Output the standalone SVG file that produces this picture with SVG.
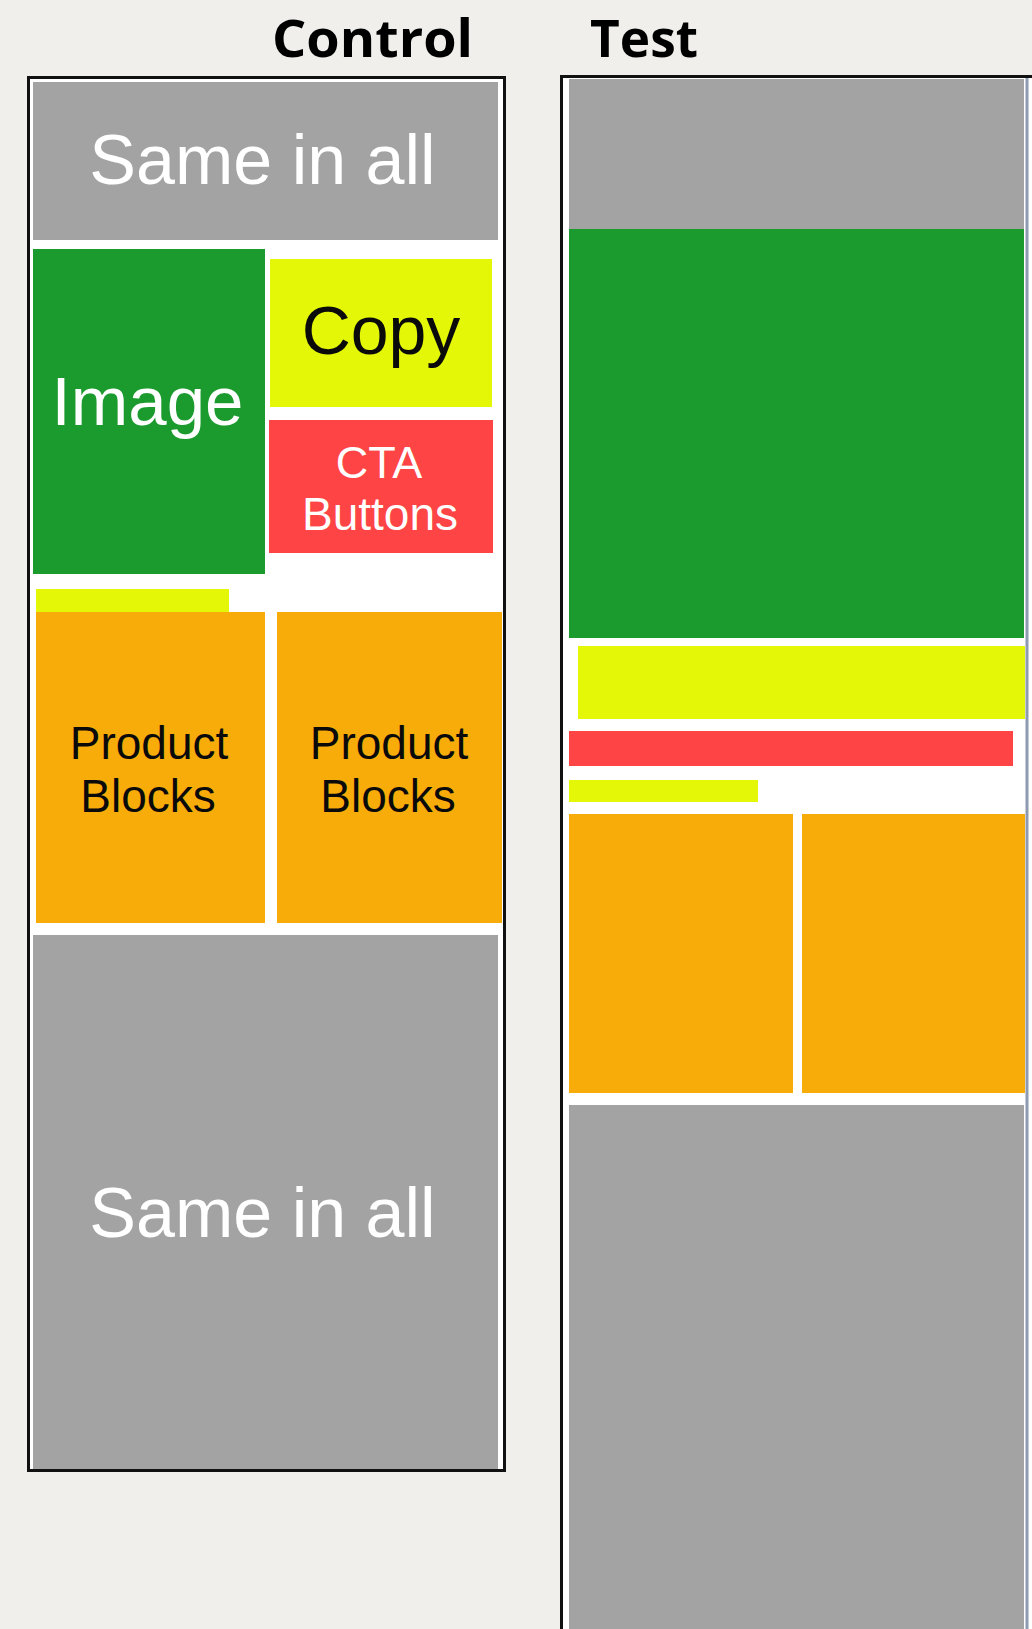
<svg xmlns="http://www.w3.org/2000/svg" width="1032" height="1629" viewBox="0 0 1032 1629">
<style>
.gray{fill:#a3a3a3}
.green{fill:#1b9b2e}
.yellow{fill:#e3f707}
.red{fill:#fe4444}
.orange{fill:#f7ac0a}
.frame{fill:#ffffff;stroke:#111111;stroke-width:3}
.title{font-family:"Open Sans","Liberation Sans",sans-serif;font-weight:bold;font-size:52px;fill:#000}
.lbl{font-family:"Liberation Sans",Arial,sans-serif;text-anchor:middle}
.w{fill:#ffffff}
.k{fill:#0a0a0a}
</style>
<rect x="0" y="0" width="1032" height="1629" fill="#f0efeb"/>
<g id="titles">
<text class="title" x="272" y="57" textLength="201" lengthAdjust="spacingAndGlyphs">Control</text>
<text class="title" x="590" y="57" textLength="108" lengthAdjust="spacingAndGlyphs">Test</text>
</g>
<g id="control">
<rect class="frame" x="28.5" y="77.5" width="476" height="1393"/>
<g id="c-header"><rect class="gray" x="33" y="82" width="465" height="158"/>
<text class="lbl w" x="262.5" y="184" font-size="70">Same in all</text></g>
<g id="c-image"><rect class="green" x="33" y="249" width="232" height="325"/>
<text class="lbl w" x="147.5" y="425" font-size="69">Image</text></g>
<g id="c-copy"><rect class="yellow" x="270" y="259" width="222" height="148"/>
<text class="lbl k" x="381" y="354" font-size="68">Copy</text></g>
<g id="c-cta"><rect class="red" x="269" y="420" width="224" height="133"/>
<text class="lbl w" x="379" y="478" font-size="45">CTA</text>
<text class="lbl w" x="380" y="530" font-size="46">Buttons</text></g>
<g id="c-bar"><rect class="yellow" x="36" y="589" width="193" height="23"/></g>
<g id="c-prod1"><rect class="orange" x="36" y="612" width="229" height="311"/>
<text class="lbl k" x="149" y="759" font-size="46">Product</text>
<text class="lbl k" x="148" y="812" font-size="46">Blocks</text></g>
<g id="c-prod2"><rect class="orange" x="277" y="612" width="225" height="311"/>
<text class="lbl k" x="389" y="759" font-size="46">Product</text>
<text class="lbl k" x="388" y="812" font-size="46">Blocks</text></g>
<g id="c-footer"><rect class="gray" x="33" y="935" width="465" height="534"/>
<text class="lbl w" x="262.5" y="1237" font-size="70">Same in all</text></g>
</g>
<g id="test">
<rect class="frame" x="561.5" y="76.5" width="520" height="1600"/>
<rect x="1025.5" y="78" width="3" height="1551" fill="#8e9bb0"/>
<g id="t-header"><rect class="gray" x="569" y="79" width="455" height="150"/></g>
<g id="t-image"><rect class="green" x="569" y="229" width="455" height="409"/></g>
<g id="t-copy"><rect class="yellow" x="578" y="646" width="447" height="73"/></g>
<g id="t-cta"><rect class="red" x="569" y="731" width="444" height="35"/></g>
<g id="t-bar"><rect class="yellow" x="569" y="780" width="189" height="22"/></g>
<g id="t-prod1"><rect class="orange" x="569" y="814" width="224" height="279"/></g>
<g id="t-prod2"><rect class="orange" x="802" y="814" width="223" height="279"/></g>
<g id="t-footer"><rect class="gray" x="569" y="1105" width="455" height="524"/></g>
</g>
<g id="connectors"></g>
</svg>
